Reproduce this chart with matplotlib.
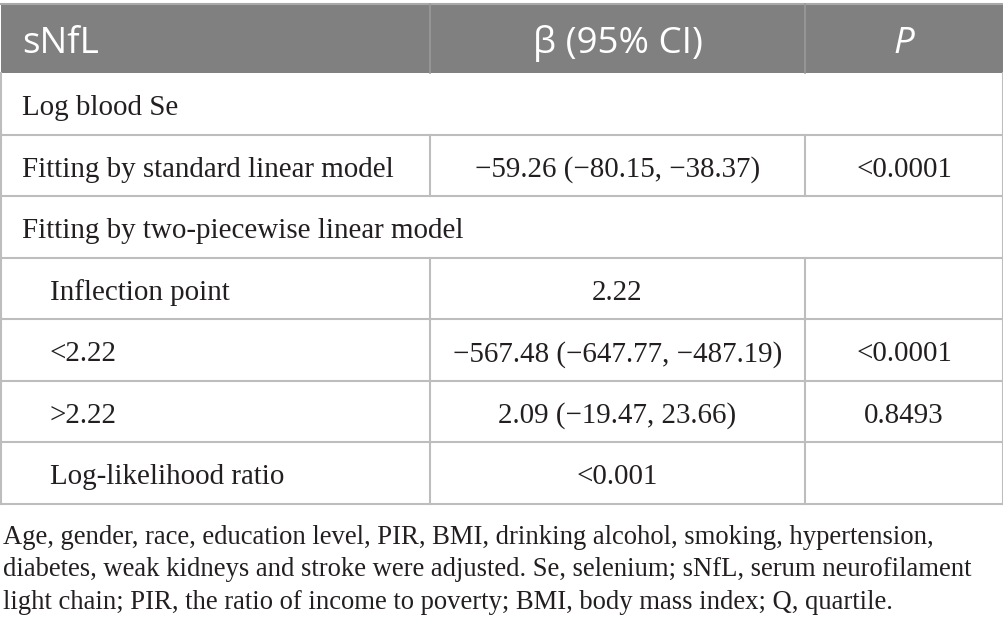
import matplotlib.pyplot as plt

# table content
header = ["sNfL", "β (95% CI)", "P"]
row_labels = ["Log blood Se", "Fitting by standard linear model",
              "Fitting by two-piecewise linear model", "Inflection point",
              "<2.22", ">2.22", "Log-likelihood ratio"]
beta_ci = ["", "\u221259.26 (\u221280.15, \u221238.37)", "", "2.22",
           "\u2212567.48 (\u2212647.77, \u2212487.19)",
           "2.09 (\u221219.47, 23.66)", "<0.001"]
p_values = ["", "<0.0001", "", "", "<0.0001", "0.8493", ""]
indented = [False, False, False, True, True, True, True]
spanning = [True, False, True, False, False, False, False]
footnote = ["Age, gender, race, education level, PIR, BMI, drinking alcohol, smoking, hypertension,",
            "diabetes, weak kidneys and stroke were adjusted. Se, selenium; sNfL, serum neurofilament",
            "light chain; PIR, the ratio of income to poverty; BMI, body mass index; Q, quartile."]

W, H = 1004, 632
col_x = [1, 430, 805, 1003]
top, head_bot = 4, 73
row_h = (504 - head_bot) / len(row_labels)
grid = '#bdbdbd'
ink = '#231f20'

fig = plt.figure(figsize=(W / 100, H / 100), dpi=100)
ax = fig.add_axes([0, 0, 1, 1])
ax.set_xlim(0, W)
ax.set_ylim(H, 0)
ax.axis('off')

# header band
ax.fill_between([col_x[0], col_x[-1]], top, head_bot, color='#7f807f', lw=0)
ax.plot([col_x[0], col_x[-1]], [top, top], color='#a9a9a9', lw=1.5)
ax.plot([col_x[1], col_x[1]], [top, head_bot], color='#9a9a9a', lw=1.2)
ax.plot([col_x[2], col_x[2]], [top, head_bot], color='#9a9a9a', lw=1.2)
hy = 53
sans = 'Open Sans'
ax.text(22, hy, header[0], color='white', fontsize=26.5, family=sans, va='baseline', ha='left')
ax.text((col_x[1] + col_x[2]) / 2, hy, header[1], color='white', fontsize=26.5,
        family=[sans, 'DejaVu Sans'], va='baseline', ha='center')
ax.text((col_x[2] + col_x[3]) / 2, hy, header[2], color='white', fontsize=26.5,
        family=sans, style='italic', va='baseline', ha='center')

# body rows
serif = 'Liberation Serif'
fs = 20.9
for i, lab in enumerate(row_labels):
    y0 = head_bot + i * row_h
    y1 = y0 + row_h
    yb = y0 + 42
    ax.plot([col_x[0], col_x[-1]], [y1, y1], color=grid, lw=1.5)
    ax.plot([col_x[0], col_x[0]], [y0, y1], color=grid, lw=1.5)
    ax.plot([col_x[-1], col_x[-1]], [y0, y1], color=grid, lw=1.5)
    if not spanning[i]:
        ax.plot([col_x[1], col_x[1]], [y0, y1], color=grid, lw=1.5)
        ax.plot([col_x[2], col_x[2]], [y0, y1], color=grid, lw=1.5)
    ax.text(50 if indented[i] else 22, yb, lab, fontsize=fs, family=serif,
            color=ink, va='baseline', ha='left')
    ax.text((col_x[1] + col_x[2]) / 2, yb, beta_ci[i], fontsize=fs, family=serif,
            color=ink, va='baseline', ha='center')
    ax.text((col_x[2] + col_x[3]) / 2, yb, p_values[i], fontsize=fs, family=serif,
            color=ink, va='baseline', ha='center')

# footnote
for k, line in enumerate(footnote):
    ax.text(3, 544 + k * 32.5, line, fontsize=19.2, family=serif, color=ink,
            va='baseline', ha='left')

fig.savefig('out.png', dpi=100)
